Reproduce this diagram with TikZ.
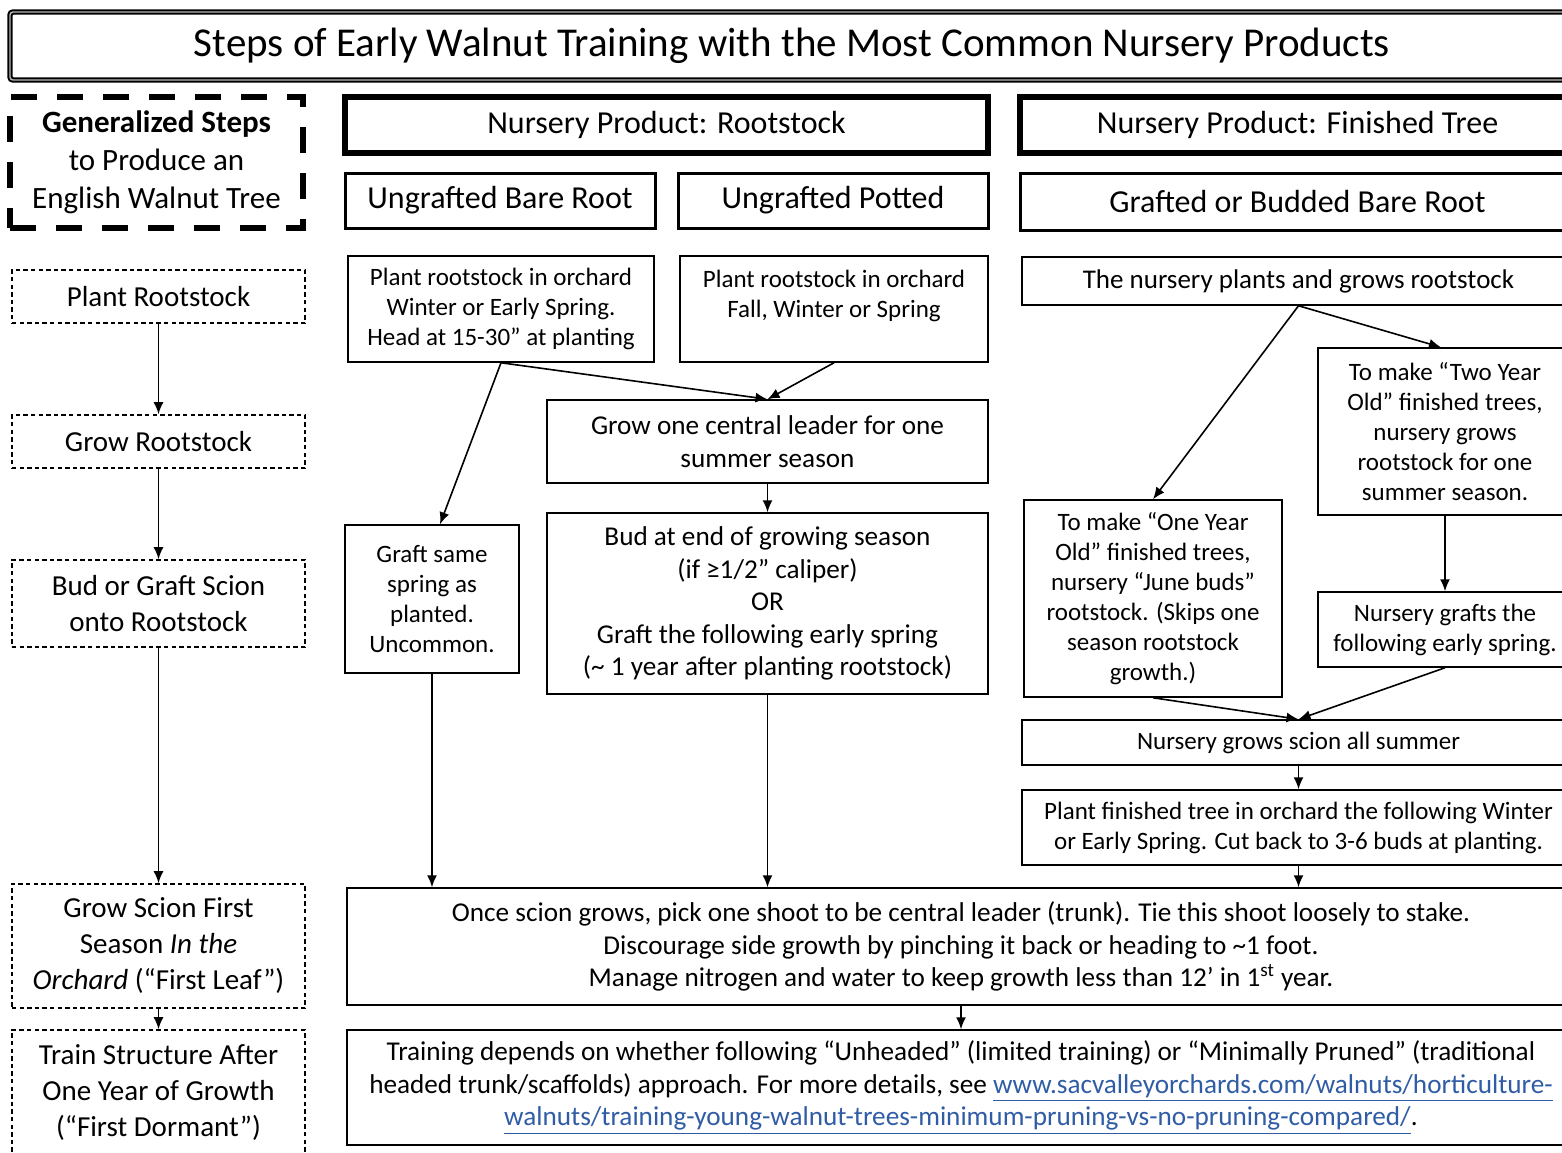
\documentclass[tikz,border=0pt]{standalone}
\usepackage{fontspec}
\setmainfont{Carlito}
\usepackage{tikz}
\usetikzlibrary{arrows.meta}
\definecolor{linkblue}{RGB}{48,92,165}
\newcommand{\titlefont}{\fontsize{20.5}{24}\selectfont}
\newcommand{\headfont}{\fontsize{16}{19}\selectfont}
\newcommand{\genfont}{\fontsize{15.5}{19}\selectfont}
\newcommand{\stepfont}{\fontsize{14.5}{18}\selectfont}
\newcommand{\bodyfont}{\fontsize{12.5}{15}\selectfont}
\newcommand{\widefont}{\fontsize{13.6}{16.2}\selectfont}

\begin{document}
\begin{tikzpicture}[x=0.5pt, y=-0.5pt, >={Latex[length=6pt, width=5pt]},
    wh/.style 2 args = {minimum width=#1*0.5pt, minimum height=#2*0.5pt},
    box/.style = {draw, line width=0.75pt, align=center, inner sep=0pt, font=\bodyfont},
    widebox/.style = {box, font=\widefont},
    titlebox/.style = {draw, line width=1pt, double=gray!55, double distance=0.7pt,
        rounded corners=1.5pt, align=center, inner sep=0pt, font=\titlefont},
    prodbox/.style = {draw, line width=3pt, align=center, inner sep=0pt, font=\headfont},
    typebox/.style = {draw, line width=1.5pt, align=center, inner sep=0pt, font=\headfont},
    genbox/.style = {draw, line width=2.6pt, dash pattern=on 13pt off 10pt,
        align=center, inner sep=0pt, font=\genfont},
    stepbox/.style = {draw, line width=0.8pt, dash pattern=on 2.2pt off 1.6pt,
        align=center, inner sep=0pt, font=\stepfont},
    arr/.style = {->, line width=0.8pt}]
    \useasboundingbox (0,0) rectangle (1562,1152);
    \clip (0,0) rectangle (1562,1152);

    \node[titlebox, wh={1564}{68}] (title) at (792,46)
        {Steps of Early Walnut Training with the Most Common Nursery Products};

    % headings
    \node[genbox, wh={293}{131}] (gen) at (156.5,162.5)
        {\textbf{Generalized Steps}\\to Produce an\\English Walnut Tree};
    \node[prodbox, wh={643}{56}] (rootprod) at (666.5,125) {Nursery Product: Rootstock};
    \node[prodbox, wh={555}{56}] (finprod) at (1297.5,125) {Nursery Product: Finished Tree};
    \node[typebox, wh={310}{55}] (bare) at (500,200.5) {Ungrafted Bare Root};
    \node[typebox, wh={310}{55}] (potted) at (833,200.5) {Ungrafted Potted};
    \node[typebox, wh={555}{57}] (budded) at (1297.5,201.5) {Grafted or Budded Bare Root};

    % generalized steps
    \node[stepbox, wh={293}{53}] (plantstep) at (158.5,296.5) {Plant Rootstock};
    \node[stepbox, wh={293}{53}] (growstep) at (158.5,441.5) {Grow Rootstock};
    \node[stepbox, wh={293}{87}] (budstep) at (158.5,603.5) {Bud or Graft Scion\\onto Rootstock};
    \node[stepbox, wh={293}{124}] (scionstep) at (158.5,946)
        {Grow Scion First\\Season \textit{In the}\\\textit{Orchard} (“First Leaf”)};
    \node[stepbox, wh={293}{125}] (trainstep) at (158.5,1092.5)
        {Train Structure After\\One Year of Growth\\(“First Dormant”)};

    % rootstock
    \node[box, wh={306}{106}] (plantbare) at (501,309)
        {Plant rootstock in orchard\\Winter or Early Spring.\\Head at 15-30”\ at planting};
    \node[box, wh={308}{106}] (plantpot) at (834,309)
        {Plant rootstock in orchard\\Fall, Winter or Spring\\ \mbox{}};
    \node[widebox, wh={441}{83}] (leader) at (767.5,441.5)
        {Grow one central leader for one\\summer season};
    \node[box, wh={174}{148}] (samespring) at (432,599)
        {Graft same\\spring as\\planted.\\Uncommon.};
    \node[widebox, wh={441}{181}] (budend) at (767.5,603.5)
        {Bud at end of growing season\\(if ≥1/2” caliper)\\OR\\Graft the following early spring\\(\textasciitilde\ 1 year after planting rootstock)};

    % finished tree
    \node[box, font=\fontsize{13.5}{15}\selectfont, wh={553}{48}] (nursplant) at (1298.5,281)
        {The nursery plants and grows rootstock};
    \node[box, wh={254}{167}] (twoyear) at (1445,431.5)
        {To make “Two Year\\Old” finished trees,\\nursery grows\\rootstock for one\\summer season.};
    \node[box, wh={258}{197}] (oneyear) at (1153,598.5)
        {To make “One Year\\Old” finished trees,\\nursery “June buds”\\rootstock. (Skips one\\season rootstock\\growth.)};
    \node[box, wh={254}{75}] (nursgraft) at (1445,629.5)
        {Nursery grafts the\\following early spring.};
    \node[box, wh={553}{45}] (scionsummer) at (1298.5,742.5) {Nursery grows scion all summer};
    \node[box, wh={553}{75}] (plantfin) at (1298.5,827.5)
        {Plant finished tree in orchard the following Winter\\or Early Spring. Cut back to 3-6 buds at planting.};

    % common steps
    \node[widebox, wh={1228}{117}] (firstleaf) at (961,946.5)
        {Once scion grows, pick one shoot to be central leader (trunk). Tie this shoot loosely to stake.\\
        Discourage side growth by pinching it back or heading to \textasciitilde1 foot.\\
        Manage nitrogen and water to keep growth less than 12’ in 1\textsuperscript{st} year.};
    \node[widebox, wh={1228}{115}] (firstdormant) at (961,1087.5)
        {Training depends on whether following “Unheaded” (limited training) or “Minimally Pruned”\ (traditional\\
        headed trunk/scaffolds) approach. For more details, see {\color{linkblue}\underline{www.sacvalleyorchards.com/walnuts/horticulture-}}\\
        {\color{linkblue}\underline{walnuts/training-young-walnut-trees-minimum-pruning-vs-no-pruning-compared/}}.};

    \draw[arr] (plantstep) -- (growstep);
    \draw[arr] (growstep) -- (budstep);
    \draw[arr] (budstep) -- (scionstep);
    \draw[arr] (scionstep) -- (trainstep);

    \draw[arr] (plantbare.south) -- (leader.north);
    \draw[arr] (plantpot.south) -- (leader.north);
    \draw[arr] (plantbare.south) -- ([xshift=4pt]samespring.north);
    \draw[arr] (leader) -- (budend);
    \draw[arr] (samespring.south) -- (samespring.south |- firstleaf.north);
    \draw[arr] (budend.south) -- (budend.south |- firstleaf.north);

    \draw[arr] (nursplant.south) -- (oneyear.north);
    \draw[arr] (nursplant.south) -- ([xshift=-2pt]twoyear.north);
    \draw[arr] (twoyear) -- (nursgraft);
    \draw[arr] (oneyear.south) -- (scionsummer.north);
    \draw[arr] (nursgraft.south) -- (scionsummer.north);
    \draw[arr] (scionsummer) -- (plantfin);
    \draw[arr] (plantfin.south) -- (plantfin.south |- firstleaf.north);

    \draw[arr] (firstleaf) -- (firstdormant);
\end{tikzpicture}
\end{document}
